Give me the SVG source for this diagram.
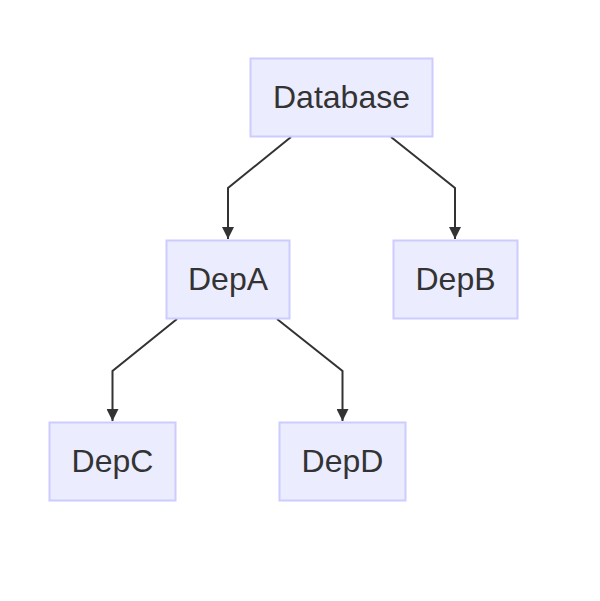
<svg xmlns="http://www.w3.org/2000/svg" width="600" height="601" viewBox="0 0 600 601">
<defs>
<style>
.node rect{fill:#ECECFF;stroke:#CCCCFF;stroke-width:2}
.node text{font-family:"Liberation Sans",Arial,sans-serif;font-size:32px;fill:#333;text-anchor:middle}
.edge{fill:none;stroke:#333;stroke-width:2}
</style>
<marker id="arrow" viewBox="0 0 10 10" refX="10" refY="5" markerWidth="6" markerHeight="6" markerUnits="strokeWidth" orient="auto">
<path d="M0,0 L10,5 L0,10 z" fill="#333"/>
</marker>
</defs>
<rect width="600" height="601" fill="#fff"/>
<g id="connectors">
<path class="edge" d="M291,137 L228,188 L228,239" marker-end="url(#arrow)"/>
<path class="edge" d="M391,137 L455,188 L455,239" marker-end="url(#arrow)"/>
<path class="edge" d="M177,319 L112.5,371 L112.5,421" marker-end="url(#arrow)"/>
<path class="edge" d="M277,319 L342.5,371 L342.5,421" marker-end="url(#arrow)"/>
</g>
<g id="Database" class="node">
<rect x="250.5" y="58.5" width="182" height="78"/>
<text x="341.5" y="108">Database</text>
</g>
<g id="DepA" class="node">
<rect x="166.5" y="240.5" width="123" height="78"/>
<text x="228" y="290">DepA</text>
</g>
<g id="DepB" class="node">
<rect x="393.5" y="240.5" width="124" height="78"/>
<text x="455.5" y="290">DepB</text>
</g>
<g id="DepC" class="node">
<rect x="49.5" y="422.5" width="126" height="78"/>
<text x="112.5" y="472">DepC</text>
</g>
<g id="DepD" class="node">
<rect x="279.5" y="422.5" width="126" height="78"/>
<text x="342.5" y="472">DepD</text>
</g>
</svg>
